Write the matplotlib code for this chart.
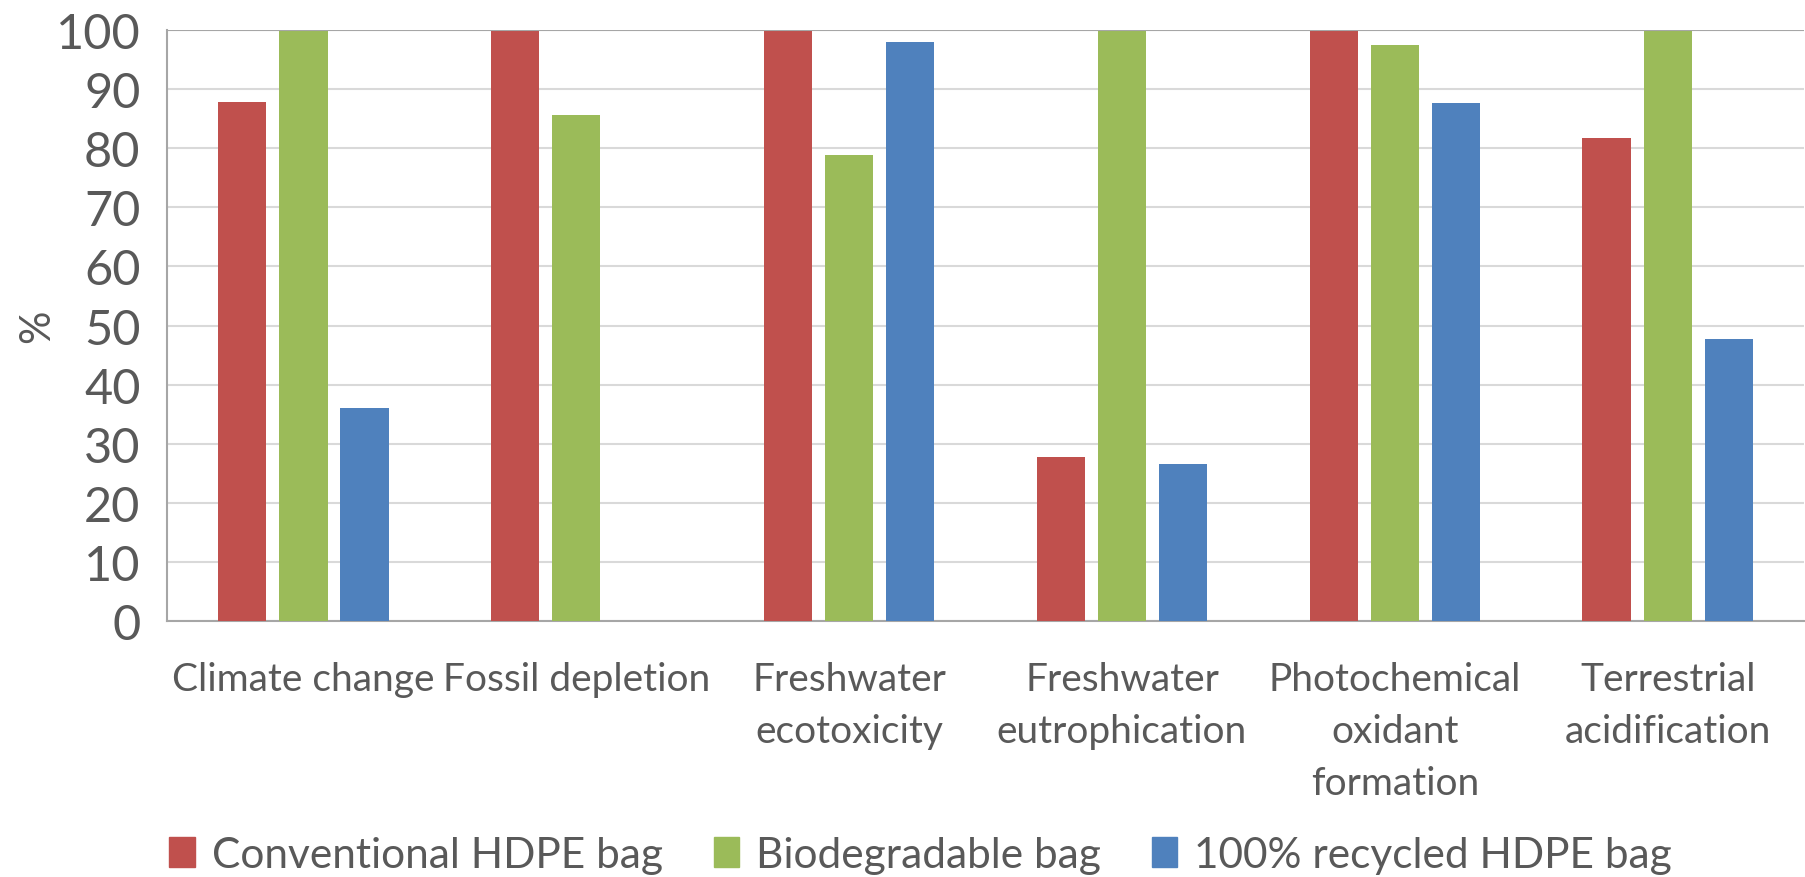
import numpy as np
import matplotlib.pyplot as plt
from matplotlib.patches import Patch

categories = ['Climate change', 'Fossil depletion', 'Freshwater\necotoxicity',
              'Freshwater\neutrophication', 'Photochemical\noxidant\nformation',
              'Terrestrial\nacidification']
series_names = ['Conventional HDPE bag', 'Biodegradable bag', '100% recycled HDPE bag']
conventional = [87.9, 100, 100, 27.7, 100, 81.7]
biodegradable = [100, 85.6, 78.9, 100, 97.5, 100]
recycled = [36.1, 0, 98.0, 26.5, 87.7, 47.8]
colors = ['#c0504d', '#9bbb59', '#4f81bd']
yticks = [0, 10, 20, 30, 40, 50, 60, 70, 80, 90, 100]

plt.rcParams['font.family'] = ['Lato', 'DejaVu Sans']
text_color = '#595959'

fig = plt.figure(figsize=(18.05, 8.78), dpi=100)
ax = fig.add_axes([0.0925, 0.2916, 0.907, 0.673])

x = np.arange(len(categories))
width = 0.177
pitch = 0.224
for i, vals in enumerate([conventional, biodegradable, recycled]):
    ax.bar(x + (i - 1) * pitch, vals, width, color=colors[i], zorder=3)

ax.set_xlim(-0.5, len(categories) - 0.5)
ax.set_ylim(0, 100)
ax.set_yticks(yticks)
ax.set_yticklabels([str(t) for t in yticks], fontsize=35, color=text_color)
ax.set_xticks(x)
ax.set_xticklabels(categories, fontsize=28, color=text_color, linespacing=1.55, va='top')
ax.tick_params(length=0)
ax.tick_params(axis='x', pad=29)
ax.tick_params(axis='y', pad=19)
ax.grid(axis='y', color='#d9d9d9', linewidth=1.5, zorder=0)
for s in ['top', 'right']:
    ax.spines[s].set_visible(False)
ax.spines['left'].set_color('#a6a6a6')
ax.spines['bottom'].set_color('#a6a6a6')
ax.spines['left'].set_linewidth(1.5)
ax.spines['bottom'].set_linewidth(1.5)
ax.axhline(100, color='#a6a6a6', linewidth=1.5, zorder=4)

ax.set_ylabel('%', fontsize=30, color=text_color, labelpad=0)

handles = [Patch(color=c, label=n) for c, n in zip(colors, series_names)]
fig.legend(handles=handles, loc='center', bbox_to_anchor=(0.51, 0.025), ncol=3,
           frameon=False, fontsize=30.5, handlelength=0.6, handleheight=0.7,
           handletextpad=0.4, columnspacing=1.2, labelcolor=text_color)

plt.savefig('out.png')
